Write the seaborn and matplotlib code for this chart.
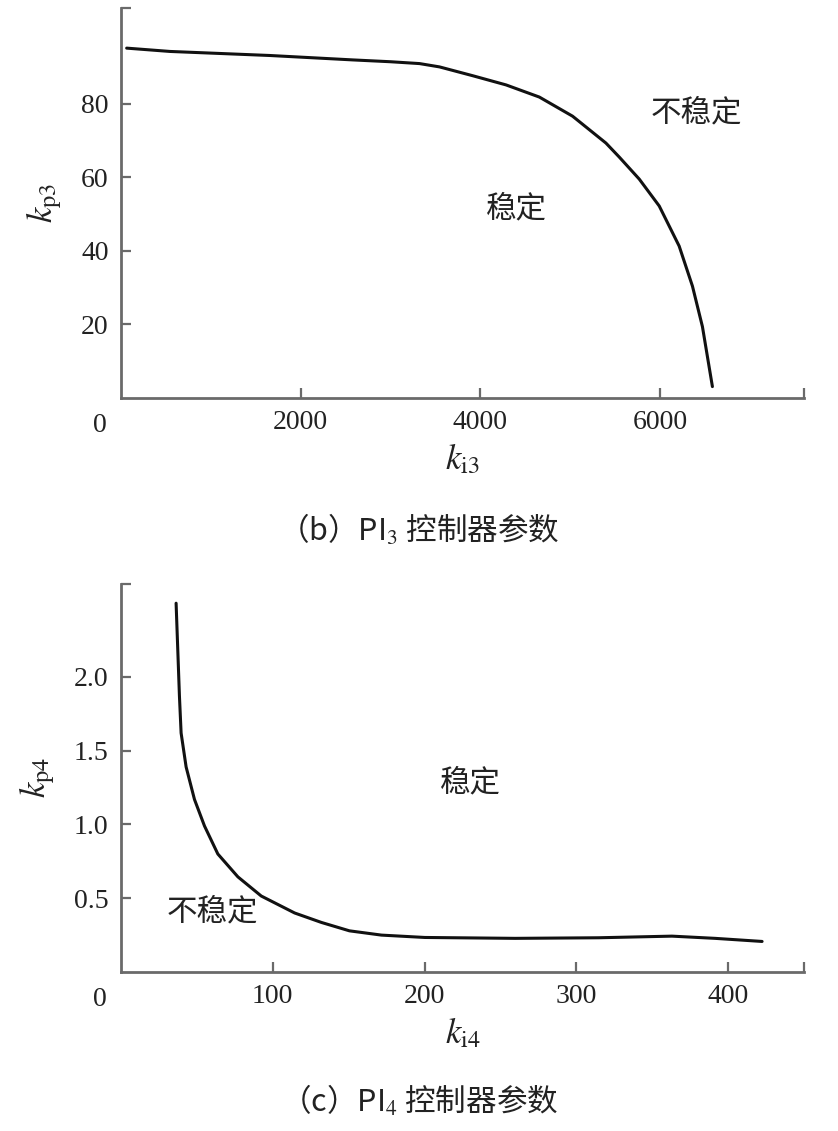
import numpy as np
import pandas as pd
import matplotlib
matplotlib.use("Agg")
import matplotlib.pyplot as plt
import seaborn as sns

# (b) PI3 stability boundary
ki3 = [63, 544, 1655, 2578, 3000, 3322, 3544, 3914, 4285, 4655, 5025, 5396, 5544, 5767, 5989, 6211, 6359, 6470, 6581]
kp3 = [95.1, 94.2, 93.1, 91.9, 91.4, 90.9, 90.0, 87.6, 85.1, 81.8, 76.6, 69.3, 65.5, 59.5, 52.2, 41.3, 30.4, 19.4, 3.1]
xticks_b = [2000, 4000, 6000, 7600]
xlabels_b = ["2000", "4000", "6000", ""]
yticks_b = [20, 40, 60, 80, 106]
ylabels_b = ["20", "40", "60", "80", ""]

# (c) PI4 stability boundary
ki4 = [36.3, 38.5, 39.6, 42.9, 48.4, 55, 63.8, 77, 92.4, 114.4, 132, 150.5, 171.6, 200.2, 259.7, 314.6, 363, 391.4, 422.4]
kp4 = [2.50, 1.87, 1.62, 1.39, 1.17, 0.99, 0.80, 0.645, 0.515, 0.40, 0.336, 0.279, 0.25, 0.234, 0.228, 0.232, 0.243, 0.228, 0.207]
xticks_c = [100, 200, 300, 400, 450]
xlabels_c = ["100", "200", "300", "400", ""]
yticks_c = [0.5, 1.0, 1.5, 2.0, 2.63]
ylabels_c = ["0.5", "1.0", "1.5", "2.0", ""]

sns.set_style("ticks")
plt.rcParams['font.family'] = ['Liberation Serif', 'Noto Sans CJK SC']
plt.rcParams['mathtext.fontset'] = 'stix'

fig = plt.figure(figsize=(8.38, 11.31), dpi=100)
ax_b = fig.add_axes([0.1444, 0.6481, 0.815, 0.3448])
ax_c = fig.add_axes([0.1444, 0.1406, 0.815, 0.3430])

df_b = pd.DataFrame({"ki": ki3, "kp": kp3})
df_c = pd.DataFrame({"ki": ki4, "kp": kp4})

sns.lineplot(data=df_b, x="ki", y="kp", ax=ax_b, color="#111111", lw=2.2, sort=False)
sns.lineplot(data=df_c, x="ki", y="kp", ax=ax_c, color="#111111", lw=2.2, sort=False)
for ax in (ax_b, ax_c):
    for ln in ax.get_lines():
        ln.set_solid_joinstyle("round")
        ln.set_solid_capstyle("round")

cjk = ['Noto Sans CJK SC']
spine_col = "#6a6a6a"
txt_col = "#222222"

setups = [
    (ax_b, (0, 7600), (0, 106), xticks_b, xlabels_b, yticks_b, ylabels_b,
     r"$k_{\mathrm{i3}}$", r"$k_{\mathrm{p3}}$"),
    (ax_c, (0, 450), (0, 2.63), xticks_c, xlabels_c, yticks_c, ylabels_c,
     r"$k_{\mathrm{i4}}$", r"$k_{\mathrm{p4}}$"),
]
for ax, xl, yl, xt, xlab, yt, ylab, xname, yname in setups:
    ax.set_xlim(*xl)
    ax.set_ylim(*yl)
    ax.set_xticks(xt)
    ax.set_xticklabels(xlab)
    ax.set_yticks(yt)
    ax.set_yticklabels(ylab)
    for s in ["top", "right"]:
        ax.spines[s].set_visible(False)
    for s in ["left", "bottom"]:
        ax.spines[s].set_color(spine_col)
        ax.spines[s].set_linewidth(2)
    ax.tick_params(direction="in", length=7, width=1.6, color=spine_col,
                   labelsize=20, labelcolor=txt_col, pad=9)
    ax.set_xlabel(xname, fontsize=25, labelpad=5, color=txt_col)
    ax.set_ylabel(yname, fontsize=25, labelpad=12, color=txt_col)
    ax.annotate("0", xy=(0, 0), xycoords="axes fraction", xytext=(-15, -20),
                textcoords="offset points", fontsize=20, color=txt_col,
                ha="center", va="center")

ax_b.text(6400, 77.5, "不稳定", family=cjk, fontsize=22, color=txt_col, ha="center", va="center")
ax_b.text(4400, 51.5, "稳定", family=cjk, fontsize=22, color=txt_col, ha="center", va="center")
ax_c.text(230, 1.28, "稳定", family=cjk, fontsize=22, color=txt_col, ha="center", va="center")
ax_c.text(60, 0.41, "不稳定", family=cjk, fontsize=22, color=txt_col, ha="center", va="center")

fig.text(0.5, 1 - 530 / 1131, "（b）PI$_3$ 控制器参数", family=['Noto Sans CJK SC', 'DejaVu Sans'],
         fontsize=22, color=txt_col, ha="center", va="center", fontweight="medium")
fig.text(0.5, 1 - 1101 / 1131, "（c）PI$_4$ 控制器参数", family=['Noto Sans CJK SC', 'DejaVu Sans'],
         fontsize=22, color=txt_col, ha="center", va="center", fontweight="medium")

fig.savefig("out.png", dpi=100, facecolor="white")
